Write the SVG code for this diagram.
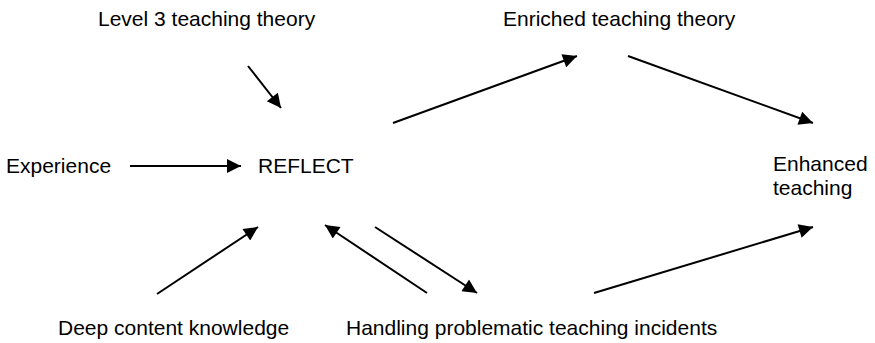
<svg xmlns="http://www.w3.org/2000/svg" width="875" height="343" viewBox="0 0 875 343">
<style>
text{font-family:"Liberation Sans",Arial,sans-serif;font-size:21px;fill:#000}
.c line{stroke:#000;stroke-width:2;marker-end:url(#ah)}
</style>
<defs>
<marker id="ah" viewBox="0 0 10 10" refX="10" refY="5" markerWidth="8" markerHeight="7" markerUnits="strokeWidth" orient="auto">
<path d="M0,0L10,5L0,10z" fill="#000"/>
</marker>
</defs>
<rect width="875" height="343" fill="#fff"/>
<g id="n-level3"><text x="98" y="26">Level 3 teaching theory</text></g>
<g id="n-enriched"><text x="503" y="26">Enriched teaching theory</text></g>
<g id="n-experience"><text x="6" y="173">Experience</text></g>
<g id="n-reflect"><text x="258" y="173">REFLECT</text></g>
<g id="n-enhanced"><text x="773" y="171">Enhanced</text><text x="773" y="195">teaching</text></g>
<g id="n-deep"><text x="58" y="335">Deep content knowledge</text></g>
<g id="n-handling"><text x="346" y="335">Handling problematic teaching incidents</text></g>
<g id="connectors" class="c">
<line x1="248" y1="66" x2="281" y2="108"/>
<line x1="393" y1="123" x2="577" y2="56"/>
<line x1="130" y1="166" x2="241" y2="166"/>
<line x1="628" y1="56" x2="813" y2="123"/>
<line x1="157" y1="294" x2="258" y2="227"/>
<line x1="427" y1="293" x2="325" y2="225"/>
<line x1="375" y1="227" x2="477" y2="293"/>
<line x1="594" y1="293" x2="813" y2="227"/>
</g>
</svg>
